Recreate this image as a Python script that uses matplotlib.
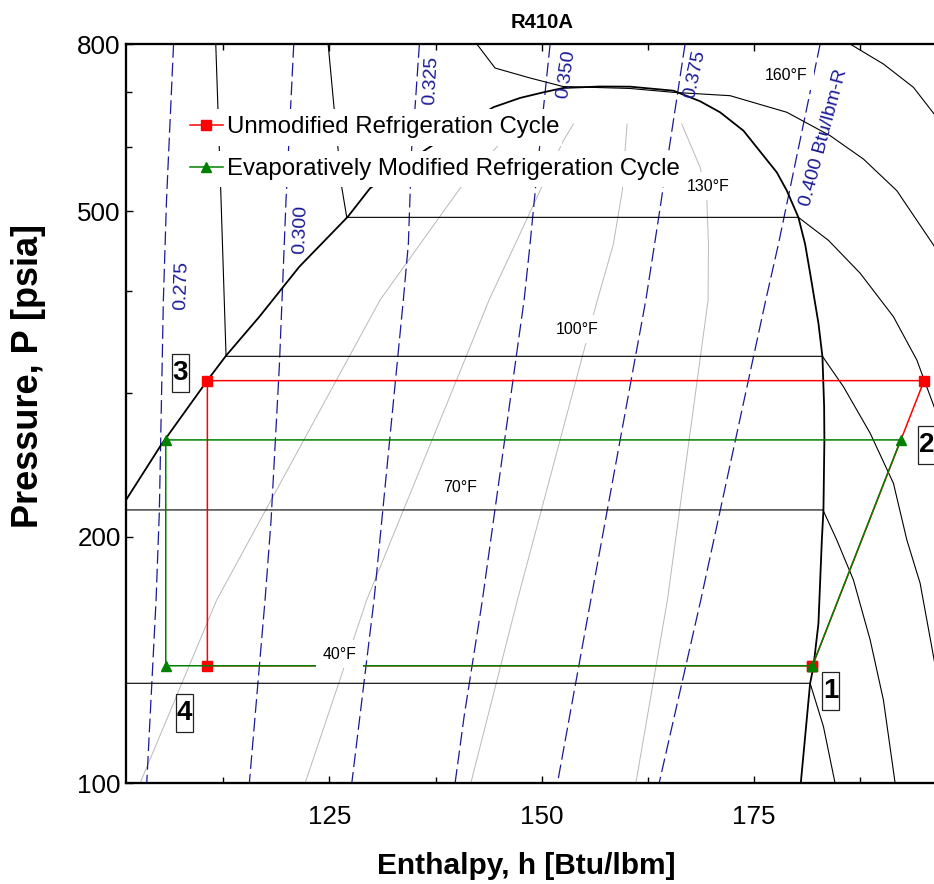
import matplotlib
matplotlib.use('Agg')
import matplotlib.pyplot as plt
from matplotlib.ticker import FixedLocator, FixedFormatter, NullFormatter
from matplotlib.patches import Rectangle
from matplotlib.path import Path

REGULAR = ['Liberation Sans', 'DejaVu Sans']
plt.rcParams['font.family'] = REGULAR

# ---- saturation dome (h [Btu/lbm], P [psia]) ----
dome_h = [100.0, 101.05, 105.17, 110.67, 112.83, 116.75, 121.46, 127.16, 129.78, 136.46,
          140.38, 144.30, 147.44, 150.19, 152.54, 156.86, 160.40, 165.50, 168.64, 170.99,
          173.74, 177.67, 178.85, 180.21, 181.00, 181.59, 182.57, 183.04, 183.24, 183.27,
          183.16, 182.97, 182.57, 181.98, 181.59, 180.45]
dome_p = [213.3, 221.9, 259.0, 311.1, 333.1, 371.7, 427.9, 492.4, 533.5, 595.9,
          632.2, 670.2, 687.9, 698.9, 707.5, 710.4, 710.1, 702.1, 681.5, 660.7,
          627.4, 557.9, 529.9, 491.6, 456.0, 420.1, 364.9, 332.2, 288.5, 262.8,
          215.8, 198.3, 156.8, 138.8, 132.5, 99.0]

# ---- isotherms ----
t40_h = [99.0, 181.59, 183.16, 184.53, 184.65]
t40_p = [132.5, 132.5, 117.3, 100.0, 98.1]
t70_h = [99.0, 183.10, 184.73, 186.69, 188.66, 190.22, 191.60, 191.70]
t70_p = [215.8, 215.8, 198.3, 177.2, 149.7, 126.4, 100.0, 98.0]
t100_h = [111.60, 112.24, 112.83, 183.04, 185.51, 188.66, 191.40, 192.98, 194.54, 196.19, 197.84]
t100_p = [810.0, 516.2, 332.5, 332.5, 305.3, 267.8, 232.6, 198.3, 175.6, 141.5, 112.9]
t130_h = [124.80, 125.54, 126.45, 127.04, 180.21, 183.75, 187.48, 191.40, 194.15, 196.19, 197.49]
t130_p = [810.0, 670.2, 535.0, 491.6, 491.6, 460.8, 420.1, 371.7, 329.1, 288.5, 262.8]
t160_h = [141.80, 142.35, 144.50, 148.62, 152.51, 160.40, 165.46, 172.17, 178.85, 183.95,
          187.87, 191.80, 196.19, 197.49]
t160_p = [815.0, 800.6, 748.3, 727.6, 710.4, 706.5, 698.9, 692.3, 660.7, 618.6,
          579.2, 529.9, 453.6, 430.0]
t190_h = [185.71, 186.30, 190.22, 193.75, 196.19, 198.08]
t190_p = [814.0, 800.6, 756.8, 708.8, 657.5, 614.7]

# ---- isentropes [Btu/lbm-R] ----
s275_h = [106.65, 105.82, 105.45, 104.97, 104.59, 103.49]
s275_p = [800.6, 516.2, 389.6, 214.0, 167.5, 100.0]
s300_h = [120.80, 119.89, 119.50, 119.10, 118.13, 117.42, 115.57]
s300_p = [800.6, 516.2, 408.7, 322.9, 209.8, 167.5, 100.0]
s325_h = [135.59, 135.08, 134.69, 134.29, 133.70, 130.25, 127.63]
s325_p = [800.6, 670.2, 598.8, 456.0, 389.6, 167.5, 100.0]
s350_h = [150.98, 150.21, 149.27, 148.62, 147.92, 143.01, 140.85, 139.79]
s350_p = [800.6, 670.2, 535.0, 456.0, 389.6, 167.5, 120.6, 100.0]
s375_h = [166.87, 163.34, 162.25, 155.77, 151.84]
s375_p = [800.6, 460.3, 389.6, 167.5, 100.0]
s400_h = [182.77, 177.86, 176.37, 168.72, 163.81]
s400_p = [800.6, 456.0, 389.6, 167.5, 100.0]

# ---- isochores (grey) ----
vA_h = [102.70, 111.73, 130.96, 140.38, 144.74, 147.09]
vA_p = [100.0, 167.5, 389.6, 533.5, 599.8, 639.3]
vB_h = [122.13, 129.39, 141.09, 143.79, 147.09, 152.54, 153.72]
vB_p = [100.0, 167.5, 332.2, 389.6, 461.2, 610.0, 639.3]
vC_h = [141.64, 147.13, 156.55, 158.43, 159.49, 159.81, 160.04]
vC_p = [100.0, 167.5, 389.6, 456.0, 530.9, 594.3, 639.3]
vD_h = [161.07, 164.79, 169.58, 169.62, 169.43, 168.64, 166.48]
vD_p = [100.0, 167.5, 389.6, 456.0, 516.2, 565.9, 639.3]

# ---- refrigeration cycles (states 1-2-3-4-1) ----
unmod_h = [181.86, 195.01, 110.63, 110.63, 181.86]
unmod_p = [139.2, 310.5, 310.5, 139.2, 139.2]
evap_h = [181.86, 192.25, 105.73, 105.73, 181.86]
evap_p = [139.2, 262.8, 262.8, 139.2, 139.2]

# ---- labels ----
state_text = ['1', '2', '3', '4']
state_h = [184.0, 195.37, 107.47, 107.94]
state_p = [129.7, 259.1, 317.2, 121.8]

temp_text = ['40°F', '70°F', '100°F', '130°F', '160°F']
temp_h = [126.16, 140.42, 154.19, 169.58, 178.73]
temp_p = [143.8, 229.9, 358.8, 536.3, 732.0]

entr_text = ['0.275', '0.300', '0.325', '0.350', '0.375', '0.400 Btu/lbm-R']
entr_h = [107.59, 121.66, 136.94, 152.84, 168.05, 183.26]
entr_p = [405.5, 474.6, 723.8, 735.9, 735.9, 614.3]
entr_rot = [88, 88, 87, 82, 78, 75]

x_ticks = [125, 150, 175]
x_minor = [112.5, 137.5, 162.5, 187.5]
y_ticks = [100, 200, 500, 800]
y_minor = [300, 400, 600, 700]

NAVY = '#1a1a96'
GREY = '#b9b9b9'


def tall_box(x0, y0, width, height, mutation_size):
    # square box, thin at the sides and roomy above/below
    px, py = 0.04 * mutation_size, 0.22 * mutation_size
    xa, ya = x0 - px, y0 - py
    xb, yb = x0 + width + px, y0 + height + py
    return Path([(xa, ya), (xb, ya), (xb, yb), (xa, yb), (xa, ya)], closed=True)


fig = plt.figure(figsize=(9.34, 8.84), dpi=100)
ax = fig.add_axes([126 / 934, 1 - 783.3 / 884, 832 / 934, 739 / 884])
ax.set_yscale('log')
ax.set_xlim(101.05, 199.0)
ax.set_ylim(100, 800)

# background property lines
for hh, pp in [(vA_h, vA_p), (vB_h, vB_p), (vC_h, vC_p), (vD_h, vD_p)]:
    ax.plot(hh, pp, color=GREY, lw=0.7, zorder=1)
for hh, pp in [(s275_h, s275_p), (s300_h, s300_p), (s325_h, s325_p),
               (s350_h, s350_p), (s375_h, s375_p), (s400_h, s400_p)]:
    ax.plot(hh, pp, color=NAVY, lw=0.9, ls=(0, (11, 4)), zorder=1.5)
for hh, pp in [(t40_h, t40_p), (t70_h, t70_p), (t100_h, t100_p),
               (t130_h, t130_p), (t160_h, t160_p), (t190_h, t190_p)]:
    ax.plot(hh, pp, color='black', lw=0.8, zorder=2)
ax.plot(dome_h, dome_p, color='black', lw=1.3, zorder=2.5)

# cycles
l1, = ax.plot(unmod_h, unmod_p, color='#ff0000', lw=1.1, marker='s', ms=7.2,
              label='Unmodified Refrigeration Cycle', zorder=3)
l2, = ax.plot(evap_h, evap_p, color='#008000', lw=1.1, marker='^', ms=7.8,
              label='Evaporatively Modified Refrigeration Cycle', zorder=3.1)

# labels
for t, hh, pp in zip(temp_text, temp_h, temp_p):
    ax.text(hh, pp, t, fontsize=11.4, ha='center', va='center', zorder=4,
            bbox=dict(facecolor='white', edgecolor='none', pad=4.7))
for t, hh, pp, r in zip(entr_text, entr_h, entr_p, entr_rot):
    ax.text(hh, pp, t, fontsize=14, color=NAVY, rotation=r,
            ha='center', va='center', rotation_mode='anchor', zorder=4)
for t, hh, pp in zip(state_text, state_h, state_p):
    ax.text(hh, pp, t, fontsize=20, fontweight='bold', ha='center', va='center', zorder=4,
            bbox=dict(boxstyle=tall_box, facecolor='white', edgecolor='#222222', lw=0.9))

# legend rows sit on white strips
for x0, y0, x1, y1 in [(0.0673, 0.8628, 0.5240, 0.9124), (0.0673, 0.8065, 0.6659, 0.8560)]:
    ax.add_patch(Rectangle((x0, y0), x1 - x0, y1 - y0, transform=ax.transAxes,
                           facecolor='white', edgecolor='none', zorder=4.5))
leg = ax.legend(handles=[l1, l2], loc='upper left', bbox_to_anchor=(0.0769, 0.9026),
                frameon=False, fontsize=17.3, borderpad=0, borderaxespad=0,
                handlelength=1.37, handletextpad=0.17, labelspacing=0.82)
leg.set_zorder(5)

# axes styling
ax.xaxis.set_major_locator(FixedLocator(x_ticks))
ax.xaxis.set_minor_locator(FixedLocator(x_minor))
ax.yaxis.set_major_locator(FixedLocator(y_ticks))
ax.yaxis.set_major_formatter(FixedFormatter([str(v) for v in y_ticks]))
ax.yaxis.set_minor_locator(FixedLocator(y_minor))
ax.yaxis.set_minor_formatter(NullFormatter())
ax.tick_params(which='both', direction='in', top=True, right=False, width=1)
ax.tick_params(which='major', length=5, labelsize=18.7)
ax.tick_params(axis='y', which='major', pad=3.8)
ax.tick_params(axis='x', which='major', pad=15.5)
ax.tick_params(which='minor', length=4)
for sp in ax.spines.values():
    sp.set_linewidth(1.65)

ax.set_title('R410A', fontsize=14.6, fontweight='bold', pad=11.5)
ax.set_xlabel('Enthalpy, h [Btu/lbm]', fontsize=21.5, fontweight='bold')
ax.xaxis.set_label_coords(0.4808, -0.0925)
ax.set_ylabel('Pressure, P [psia]', fontsize=26, fontweight='bold')
ax.yaxis.set_label_coords(-0.0966, 0.5505)

fig.savefig('out.png', dpi=100)
